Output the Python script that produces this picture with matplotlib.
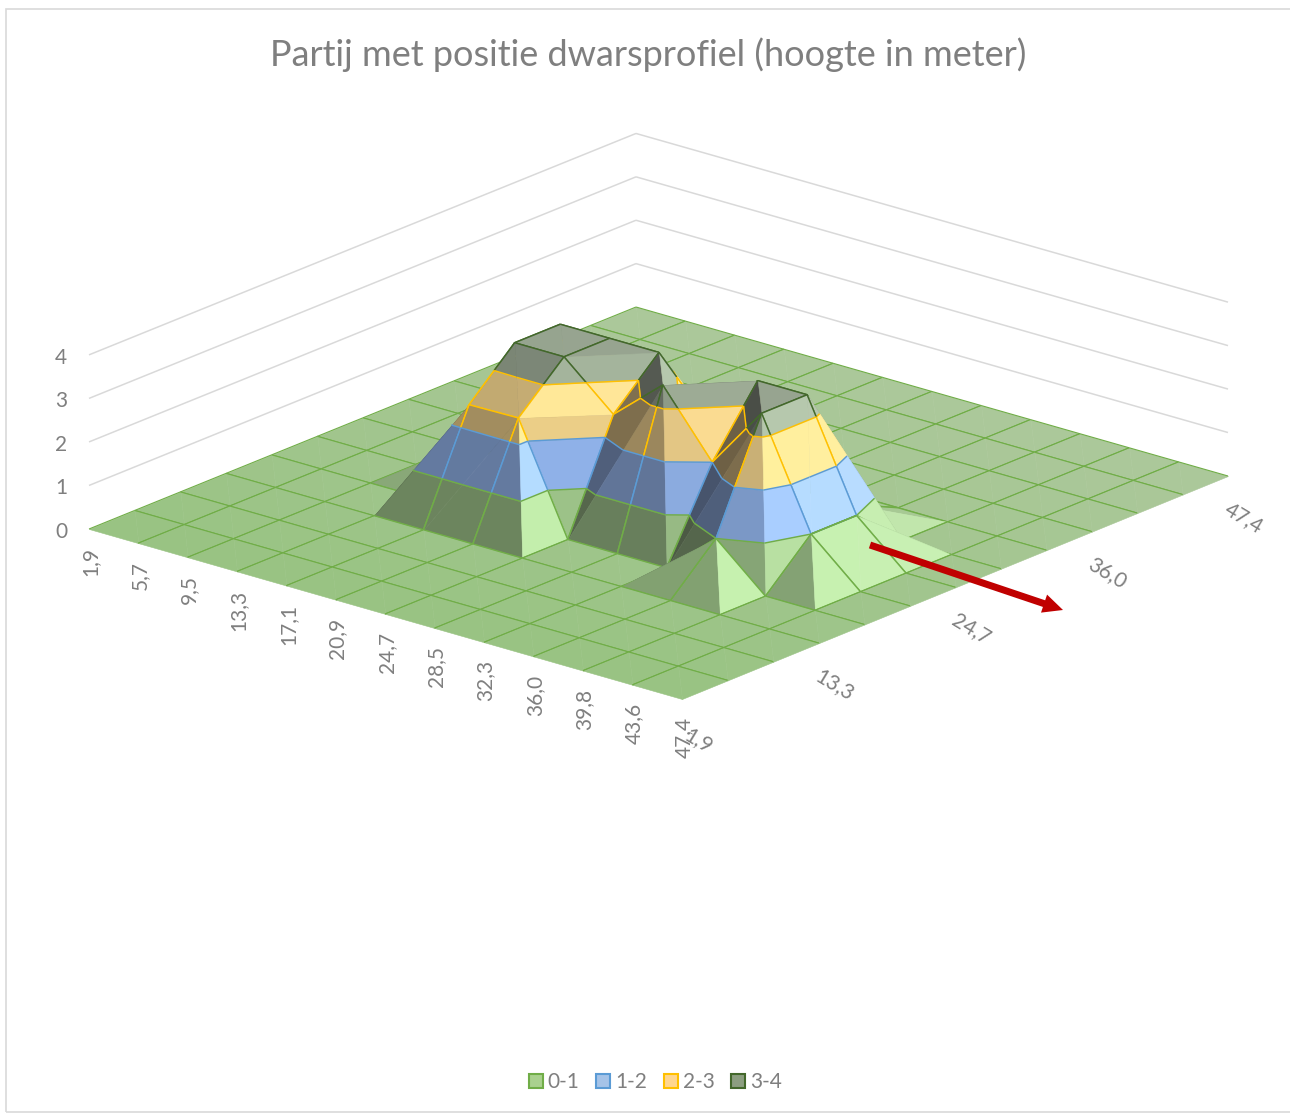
import numpy as np
import matplotlib
matplotlib.use("Agg")
import matplotlib.pyplot as plt
from matplotlib.patches import Patch, Rectangle, FancyArrowPatch
from mpl_toolkits.mplot3d.art3d import Poly3DCollection, Line3DCollection

plt.rcParams['font.family'] = ['Lato', 'DejaVu Sans']

TITLE = "Partij met positie dwarsprofiel (hoogte in meter)"
x_labels = ["1,9", "5,7", "9,5", "13,3", "17,1", "20,9", "24,7", "28,5", "32,3", "36,0", "39,8", "43,6", "47,4"]
y_labels = ["1,9", "13,3", "24,7", "36,0", "47,4"]
z_labels = ["0", "1", "2", "3", "4"]
band_names = ["0-1", "1-2", "2-3", "3-4"]

# hoogte[i][j]: i along the 1,9..47,4 front-left axis, j along the front-right axis
heights = [
    [0, 0, 0, 0, 0,    0,    0,    0,   0, 0, 0, 0, 0],
    [0, 0, 0, 0, 0,    0,    0,    0,   0, 0, 0, 0, 0],
    [0, 0, 0, 0, 0,    0,    0,    0,   0, 0, 0, 0, 0],
    [0, 0, 0, 0, 0,    0.8,  0,    0,   0, 0, 0, 0, 0],
    [0, 0, 0, 0, 2.45, 3.45, 3.45, 0,   0, 0, 0, 0, 0],
    [0, 0, 0, 0, 2.47, 3.45, 3.45, 0,   0, 0, 0, 0, 0],
    [0, 0, 0, 0, 0,    2.45, 3.45, 0.5, 0, 0, 0, 0, 0],
    [0, 0, 0, 0, 0,    3.45, 2.2,  0.5, 0, 0, 0, 0, 0],
    [0, 0, 0, 0, 0,    2.0,  3.45, 0.5, 0, 0, 0, 0, 0],
    [0, 0, 0, 0, 1.0,  3.45, 3.45, 0.5, 0, 0, 0, 0, 0],
    [0, 0, 0, 0, 0,    1.0,  1.0,  0,   0, 0, 0, 0, 0],
    [0, 0, 0, 0, 0,    0,    0,    0,   0, 0, 0, 0, 0],
    [0, 0, 0, 0, 0,    0,    0,    0,   0, 0, 0, 0, 0],
]

band_fill = [(152, 195, 130), (137, 177, 234), (238, 208, 128), (140, 158, 132)]
band_line = ["#70AD47", "#5B9BD5", "#FFC000", "#43682B"]
legend_fill = ["#A9D18E", "#A5C3E8", "#FFD68F", "#8C9E80"]
TEXT = "#7F7F7F"
W_PX, H_PX = 1290, 1115

Z = np.array(heights, dtype=float)
n_i, n_j = Z.shape

# camera: maps grid corners onto the picture (perspective)
corners_grid = [(0, 0), (12, 0), (0, 12), (12, 12)]
corners_px = [(89, 529), (682, 699), (636, 307), (1228, 476)]
A, b = [], []
for (u, v), (X, Y) in zip(corners_grid, corners_px):
    A.append([u, v, 1, 0, 0, 0, -u * X, -v * X]); b.append(X)
    A.append([0, 0, 0, u, v, 1, -u * Y, -v * Y]); b.append(Y)
h = np.linalg.solve(np.array(A, float), np.array(b, float))
H = np.append(h, 1).reshape(3, 3)
unit_px = 43.5 * (H[2] @ [6, 6, 1])
M = np.array([
    [H[0, 0], H[0, 1], 0, H[0, 2]],
    [H[1, 0], H[1, 1], -unit_px, H[1, 2]],
    [-0.01, 0.01, 0.001, 0],
    [H[2, 0], H[2, 1], 0, H[2, 2]],
])


def project(i, j, z=0.0):
    p = M @ np.array([i, j, z, 1.0])
    return p[0] / p[3], p[1] / p[3]


fig = plt.figure(figsize=(W_PX / 100, H_PX / 100), dpi=100, facecolor="white")
ax = fig.add_axes([0, 0, 1, 1], projection="3d")
ax.set_axis_off()
ax.patch.set_visible(False)
ax.computed_zorder = False
ax.get_proj = lambda: M
ax.apply_aspect = lambda position=None: None
ax.set_autoscale_on(False)
ax.viewLim.intervalx = (0, W_PX)
ax.viewLim.intervaly = (H_PX, 0)


def clip(poly, lo, hi):
    def cut(pts, level, keep_above):
        out = []
        for k in range(len(pts)):
            a, c = pts[k], pts[(k + 1) % len(pts)]
            ina = a[2] >= level if keep_above else a[2] <= level
            inc = c[2] >= level if keep_above else c[2] <= level
            if ina:
                out.append(a)
            if ina != inc:
                t = (level - a[2]) / (c[2] - a[2])
                out.append(tuple(a[m] + t * (c[m] - a[m]) for m in range(3)))
        return out
    pts = cut(list(poly), lo, True)
    return cut(pts, hi, False) if pts else []


def clip_seg(a, c, lo, hi):
    if a[2] > c[2]:
        a, c = c, a
    if c[2] < lo or a[2] > hi:
        return None
    def at(level):
        t = (level - a[2]) / (c[2] - a[2])
        return tuple(a[m] + t * (c[m] - a[m]) for m in range(3))
    p = a if a[2] >= lo else at(lo)
    q = c if c[2] <= hi else at(hi)
    return (p, q)


def plan_area(poly):
    arr = np.array(poly)
    x, y = arr[:, 0], arr[:, 1]
    return 0.5 * abs(np.dot(x, np.roll(y, 1)) - np.dot(y, np.roll(x, 1)))


def shade(tri):
    a, c, d = [np.array(p, float) for p in tri]
    n = np.cross(c - a, d - a)
    n = n / np.linalg.norm(n)
    if n[2] < 0:
        n = -n
    return 0.626 + 0.49 * n[0] + 0.12 * n[1] + 0.374 * n[2]


def face_colour(band, s, j_mean):
    if band >= 2 and s > 1:
        cap = 1.16 if band == 2 else 1.25
        rgb = np.array(band_fill[band], float) * min(1 + (s - 1) * 2, cap)
    else:
        rgb = np.array(band_fill[band], float) * s
        if s > 1:
            rgb = rgb + (255 - np.clip(rgb, 0, 255)) * 0.1 * min((s - 1) / 0.25, 1)
    t = 0.2 * j_mean / 12
    rgb = np.clip(rgb, 0, 255) * (1 - t) + np.array([252, 220, 255.0]) * t
    return tuple(np.clip(rgb, 0, 255) / 255)


def signed_area(tri):
    p = [project(*v) for v in tri]
    return (p[1][0] - p[0][0]) * (p[2][1] - p[0][1]) - (p[2][0] - p[0][0]) * (p[1][1] - p[0][1])


# back wall grid lines
wall = []
for level in range(1, len(z_labels)):
    wall.append(((0, 0, level), (0, n_j - 1, level)))
    wall.append(((0, n_j - 1, level), (n_i - 1, n_j - 1, level)))
wall_lines = Line3DCollection(wall, colors="#D9D9D9", linewidths=1.1)
wall_lines.set_zorder(1)
ax.add_collection3d(wall_lines, autolim=False)

order = 10
for i in range(n_i - 1):
    for j in range(n_j - 2, -1, -1):
        p00 = (i, j, Z[i, j]); p10 = (i + 1, j, Z[i + 1, j])
        p11 = (i + 1, j + 1, Z[i + 1, j + 1]); p01 = (i, j + 1, Z[i, j + 1])
        # the surface takes the upper of the two possible folds
        if p00[2] + p11[2] > p10[2] + p01[2] + 1e-9:
            tris = [(p00, p11, p01), (p00, p10, p11)]
        else:
            tris = [(p00, p10, p01), (p10, p11, p01)]
        # back-facing triangle first, otherwise the far one first
        def key(t):
            front = signed_area(t) < 0
            far = np.mean([v[1] - v[0] for v in t])
            return (front, -far)
        tris.sort(key=key)
        for tri in tris:
            s = shade(tri)
            segs, cols = [], []
            for band in range(len(band_fill) - 1, -1, -1):
                piece = clip(tri, band, band + 1)
                if len(piece) >= 3 and plan_area(piece) > 1e-9:
                    arr = np.array(piece)
                    col = face_colour(band, s, arr[:, 1].mean())
                    pc = Poly3DCollection([piece], facecolors=[col], edgecolors=[col], linewidths=0.4)
                    pc.set_zorder(order)
                    ax.add_collection3d(pc, autolim=False)
                    order += 1
            for band in range(len(band_fill) - 1, -1, -1):
                # grid edges
                for k in range(3):
                    a, c = tri[k], tri[(k + 1) % 3]
                    if a[0] != c[0] and a[1] != c[1]:
                        continue
                    if a[1] == c[1] == 0 or a[0] == c[0] == n_i - 1:
                        continue
                    sg = None if (a[2] == c[2] and not (band <= a[2] <= band + 1)) else (
                        (a, c) if a[2] == c[2] else clip_seg(a, c, band, band + 1))
                    if sg is not None and sg[0] != sg[1]:
                        segs.append(sg); cols.append(band_line[band])
                # contour at the top of this band
                level = band + 1
                pts = []
                for k in range(3):
                    a, c = tri[k], tri[(k + 1) % 3]
                    if (a[2] - level) * (c[2] - level) < 0:
                        t = (level - a[2]) / (c[2] - a[2])
                        pts.append(tuple(a[m] + t * (c[m] - a[m]) for m in range(3)))
                    elif a[2] == level:
                        pts.append(a)
                if len(pts) == 2:
                    segs.append((pts[0], pts[1])); cols.append(band_line[band])
            if segs:
                flat = all(v[2] == 0 for v in tri)
                lc = Line3DCollection(segs, colors=cols, linewidths=0.8 if flat else 1.05)
                lc.set_zorder(order)
                ax.add_collection3d(lc, autolim=False)
                order += 1


def put(xp, yp, s, **kw):
    fig.text(xp / W_PX, 1 - yp / H_PX, s, color=TEXT, **kw)


TICK_SIZE = 15
for k, lab in enumerate(z_labels):
    xp, yp = project(0, 0, k)
    put(xp - 28, yp + 3, lab, fontsize=TICK_SIZE, ha="center", va="center")
for k, lab in enumerate(x_labels):
    xp, yp = project(k, 0)
    put(xp + 1.5, yp + 18, lab, fontsize=TICK_SIZE, rotation=90, ha="center", va="top")
for k, lab in enumerate(y_labels):
    j = 3 * k
    xp, yp = project(n_i - 1, j)
    put(xp + 16, yp + 41.5, lab, fontsize=TICK_SIZE, rotation=-31, ha="center", va="center",
        rotation_mode="anchor")

fig.text(648 / W_PX, 1 - 55 / H_PX, TITLE, fontsize=26, color=TEXT, ha="center", va="center")

handles = [Patch(facecolor=f, edgecolor=e, linewidth=1.5, label=n)
           for f, e, n in zip(legend_fill, band_line, band_names)]
fig.legend(handles=handles, ncols=4, loc="center", bbox_to_anchor=(655.5 / W_PX, 1 - 1082 / H_PX), frameon=False,
           fontsize=TICK_SIZE, labelcolor=TEXT, handlelength=0.67, handleheight=0.67, handletextpad=0.24,
           columnspacing=0.8, borderpad=0)

fig.add_artist(Rectangle((6 / W_PX, 1 - 1112 / H_PX), 1300 / W_PX, 1103 / H_PX, transform=fig.transFigure,
                         fill=False, edgecolor="#D9D9D9", lw=1.2, zorder=-1))
k = 72 / 100
arrow = FancyArrowPatch((870 / W_PX, 1 - 545 / H_PX), (1063 / W_PX, 1 - 610 / H_PX), transform=fig.transFigure,
                        arrowstyle=f"simple,head_length={20 * k},head_width={19 * k},tail_width={7 * k}",
                        mutation_scale=1, shrinkA=0, shrinkB=0, color="#C00000", lw=0, zorder=20)
fig.add_artist(arrow)

fig.savefig("out.png", dpi=100)
